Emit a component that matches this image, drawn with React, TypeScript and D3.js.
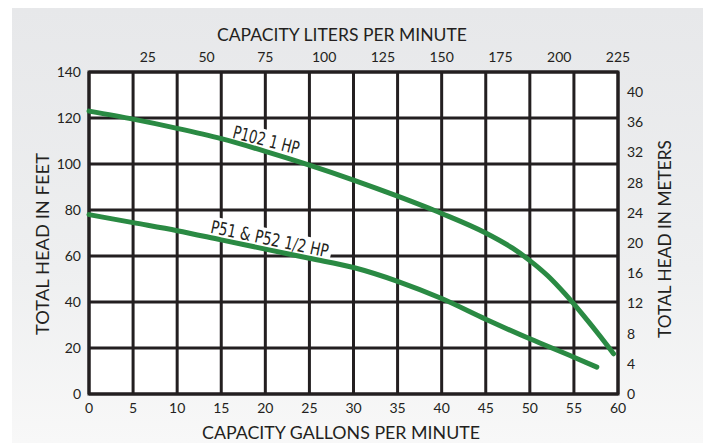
import React from "react";
import * as d3 from "d3";

// pump curves, head in feet against capacity in gallons per minute
const p102Gpm = [0, 5, 10, 15, 20, 25, 30, 35, 40, 45, 48, 50, 52, 54, 56, 58, 59.5];
const p102Head = [123, 119.5, 115.5, 111, 105.5, 99.5, 93, 86, 78.5, 70, 63.5, 58, 51.5, 43.5, 34.5, 25, 17.5];
const p51Gpm = [0, 5, 10, 15, 20, 25, 30, 35, 40, 45, 50, 55, 57.6];
const p51Head = [78, 74.5, 71, 67, 63, 59, 55, 49, 41.5, 32.5, 24, 16, 11.7];

const gpmTicks = [0, 5, 10, 15, 20, 25, 30, 35, 40, 45, 50, 55, 60];
const feetTicks = [0, 20, 40, 60, 80, 100, 120, 140];
const literTicks = [25, 50, 75, 100, 125, 150, 175, 200, 225];
const meterTicks = [0, 4, 8, 12, 16, 20, 24, 28, 32, 36, 40];

const labels = [
  { text: "P102 1 HP", gpm: 20.1, head: 110.5, angle: 14.5, len: 68 },
  { text: "P51 & P52 1/2 HP", gpm: 20.5, head: 67.5, angle: 12, len: 120 },
];

const W = 705;
const H = 443;
const left = 89, right = 618, top = 72, bottom = 394;
const ink = "#231f20";
const green = "#2a8a43";
const font = "Lato, 'Open Sans', sans-serif";

export default function App() {
  const x = d3.scaleLinear().domain([0, 60]).range([left, right]);
  const y = d3.scaleLinear().domain([0, 140]).range([bottom, top]);
  const xL = d3.scaleLinear().domain([0, 225]).range([left, right]);
  const yM = d3.scaleLinear().domain([0, 140 * 0.3048]).range([bottom, top]);

  const line = d3
    .line<[number, number]>()
    .x((d) => x(d[0]))
    .y((d) => y(d[1]))
    .curve(d3.curveMonotoneX);

  const p102 = p102Gpm.map((g, i) => [g, p102Head[i]] as [number, number]);
  const p51 = p51Gpm.map((g, i) => [g, p51Head[i]] as [number, number]);

  return (
    <svg width={W} height={H} style={{ position: "absolute", left: 0, top: 0 }} fontFamily={font}>
      <defs>
        <linearGradient id="bg" x1="0" y1="0" x2="0" y2="1">
          <stop offset="0" stopColor="#e7e8ea" />
          <stop offset="0.6" stopColor="#eeeff0" />
          <stop offset="1" stopColor="#f8f8f8" />
        </linearGradient>
      </defs>
      <rect x={0} y={0} width={W} height={H} fill="#fff" />
      <rect x={12} y={8} width={691} height={H - 8} fill="url(#bg)" />

      <rect x={left} y={top} width={right - left} height={bottom - top} fill="#fff" />

      {gpmTicks.map((t) => (
        <line key={"v" + t} x1={x(t)} x2={x(t)} y1={top} y2={bottom} stroke={ink} strokeWidth={3} />
      ))}
      {feetTicks.map((t) => (
        <line key={"h" + t} x1={left} x2={right} y1={y(t)} y2={y(t)} stroke={ink} strokeWidth={3} />
      ))}
      <rect x={left} y={top} width={right - left} height={bottom - top} fill="none" stroke={ink} strokeWidth={3} />

      {labels.map((l) => (
        <g key={l.text} transform={`translate(${x(l.gpm)},${y(l.head)}) rotate(${l.angle})`}>
          <rect x={-l.len / 2 - 3} y={-10} width={l.len + 6} height={20} fill="#fff" />
        </g>
      ))}

      <path d={line(p102) || ""} fill="none" stroke={green} strokeWidth={5} strokeLinecap="round" />
      <path d={line(p51) || ""} fill="none" stroke={green} strokeWidth={5} strokeLinecap="round" />

      {labels.map((l) => (
        <g key={l.text + "t"} transform={`translate(${x(l.gpm)},${y(l.head)}) rotate(${l.angle})`}>
          <text
            textAnchor="middle"
            y={6.5}
            fontSize={18}
            fontFamily="'DejaVu Sans Condensed', 'Liberation Sans Narrow', sans-serif"
            fill={ink}
            textLength={l.len}
            lengthAdjust="spacingAndGlyphs"
          >
            {l.text}
          </text>
        </g>
      ))}

      {gpmTicks.map((t) => (
        <text key={"bx" + t} x={x(t)} y={413} textAnchor="middle" fontSize={14} fill={ink}>
          {t}
        </text>
      ))}
      {feetTicks.map((t) => (
        <text key={"ly" + t} x={81} y={y(t)} dy="0.35em" textAnchor="end" fontSize={14} fill={ink}>
          {t}
        </text>
      ))}
      {literTicks.map((t) => (
        <text key={"tx" + t} x={xL(t)} y={62} textAnchor="middle" fontSize={14} fill={ink}>
          {t}
        </text>
      ))}
      {meterTicks.map((t) => (
        <text key={"ry" + t} x={627} y={yM(t)} dy="0.35em" textAnchor="start" fontSize={14} fill={ink}>
          {t}
        </text>
      ))}

      <text x={342} y={41} textAnchor="middle" fontSize={17} fill={ink} textLength={250} lengthAdjust="spacingAndGlyphs">
        CAPACITY LITERS PER MINUTE
      </text>
      <text x={341} y={439} textAnchor="middle" fontSize={17} fill={ink} textLength={278} lengthAdjust="spacingAndGlyphs">
        CAPACITY GALLONS PER MINUTE
      </text>
      <text
        transform={`translate(49,244) rotate(-90)`}
        textAnchor="middle"
        fontSize={17}
        fill={ink}
        textLength={182}
        lengthAdjust="spacingAndGlyphs"
      >
        TOTAL HEAD IN FEET
      </text>
      <text
        transform={`translate(671,239) rotate(-90)`}
        textAnchor="middle"
        fontSize={17}
        fill={ink}
        textLength={198}
        lengthAdjust="spacingAndGlyphs"
      >
        TOTAL HEAD IN METERS
      </text>
    </svg>
  );
}
